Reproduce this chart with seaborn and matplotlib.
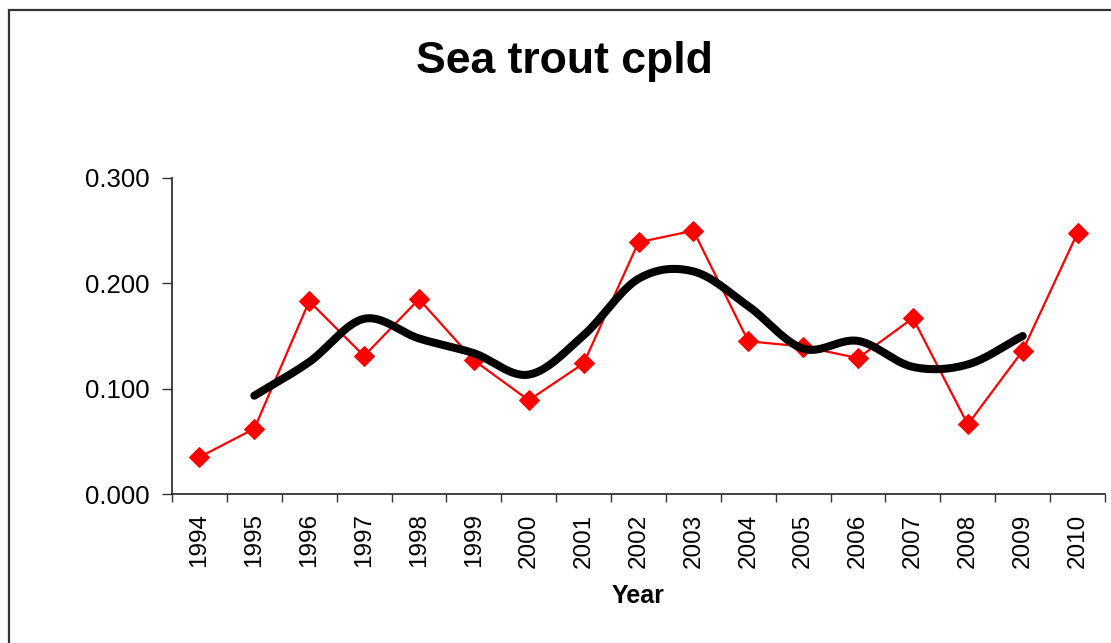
import numpy as np
import pandas as pd
import matplotlib
matplotlib.use("Agg")
import matplotlib.pyplot as plt
import seaborn as sns
from matplotlib.patches import Rectangle

years = ["1994", "1995", "1996", "1997", "1998", "1999", "2000", "2001", "2002",
         "2003", "2004", "2005", "2006", "2007", "2008", "2009", "2010"]
cpld = [0.035, 0.062, 0.183, 0.131, 0.185, 0.127, 0.089, 0.124, 0.239,
        0.250, 0.145, 0.140, 0.129, 0.167, 0.066, 0.136, 0.248]
y_ticks = [0.0, 0.1, 0.2, 0.3]
y_tick_labels = ["0.000", "0.100", "0.200", "0.300"]
title = "Sea trout cpld"
x_label = "Year"

sns.set_theme(style="white")
plt.rcParams['font.family'] = ['Liberation Sans', 'DejaVu Sans']
plt.rcParams['text.color'] = 'black'
plt.rcParams['xtick.color'] = 'black'
plt.rcParams['ytick.color'] = 'black'
plt.rcParams['axes.labelcolor'] = 'black'

# 3-year centred moving average (Excel trendline), then Excel-like smoothing
vals = np.array(cpld)
ma = np.convolve(vals, np.ones(3) / 3, mode="valid")   # positions 1..15
ma_x = np.arange(1, len(vals) - 1, dtype=float)


def catmull_rom(xs, ys, n=30):
    px = np.concatenate([[2 * xs[0] - xs[1]], xs, [2 * xs[-1] - xs[-2]]])
    py = np.concatenate([[2 * ys[0] - ys[1]], ys, [2 * ys[-1] - ys[-2]]])
    ox, oy = [], []
    t = np.linspace(0, 1, n, endpoint=False)
    for i in range(1, len(px) - 2):
        for arr, out in ((px, ox), (py, oy)):
            p0, p1, p2, p3 = arr[i - 1], arr[i], arr[i + 1], arr[i + 2]
            out.extend(0.5 * ((2 * p1) + (-p0 + p2) * t +
                              (2 * p0 - 5 * p1 + 4 * p2 - p3) * t ** 2 +
                              (-p0 + 3 * p1 - 3 * p2 + p3) * t ** 3))
    ox.append(xs[-1]); oy.append(ys[-1])
    return np.array(ox), np.array(oy)


sx, sy = catmull_rom(ma_x, ma)

df = pd.DataFrame({"pos": np.arange(len(years)), "cpld": cpld})
df_s = pd.DataFrame({"pos": sx, "ma": sy})

fig = plt.figure(figsize=(11.11, 6.43), dpi=100)
ax = fig.add_axes([172 / 1111, 1 - 494 / 643, (1105 - 172) / 1111, (494 - 178) / 643])

sns.lineplot(data=df, x="pos", y="cpld", ax=ax, color="#FF0000", linewidth=1.6,
             marker="D", markersize=10, markeredgecolor="#FF0000", zorder=2)
sns.lineplot(data=df_s, x="pos", y="ma", ax=ax, color="black", linewidth=5.8,
             solid_capstyle="round", zorder=3)

ax.set_xlim(-0.5, len(years) - 0.5)
ax.set_ylim(0, 0.3)
ax.set_yticks(y_ticks)
ax.set_yticklabels(y_tick_labels, fontsize=18.5)
ax.set_xticks(np.arange(len(years)))
ax.set_xticklabels(years, rotation=90, fontsize=17.5)
ax.set_xticks(np.arange(len(years) + 1) - 0.5, minor=True)
ax.tick_params(axis="x", which="major", length=0, pad=14)
ax.tick_params(axis="x", which="minor", length=6, width=1, color="#333333", direction="out", bottom=True)
ax.tick_params(axis="y", which="major", length=7, width=1, color="#333333", direction="out", pad=9, left=True)
ax.set_xlabel(x_label, fontsize=18, fontweight="bold", labelpad=12)
ax.set_ylabel("")
ax.grid(False)
for s in ["top", "right"]:
    ax.spines[s].set_visible(False)
for s in ["left", "bottom"]:
    ax.spines[s].set_color("#222222")
    ax.spines[s].set_linewidth(1.2)

fig.text(564 / 1111, 1 - 61 / 643, title, ha="center", va="center",
         fontsize=32, fontweight="bold", color="black")

fig.add_artist(Rectangle((9 / 1111, -0.1), 1.2, 1 - 10 / 643 + 0.1,
                         transform=fig.transFigure, fill=False,
                         edgecolor="#333333", linewidth=1.6, clip_on=False))

fig.savefig("out.png", dpi=100, facecolor="white")
